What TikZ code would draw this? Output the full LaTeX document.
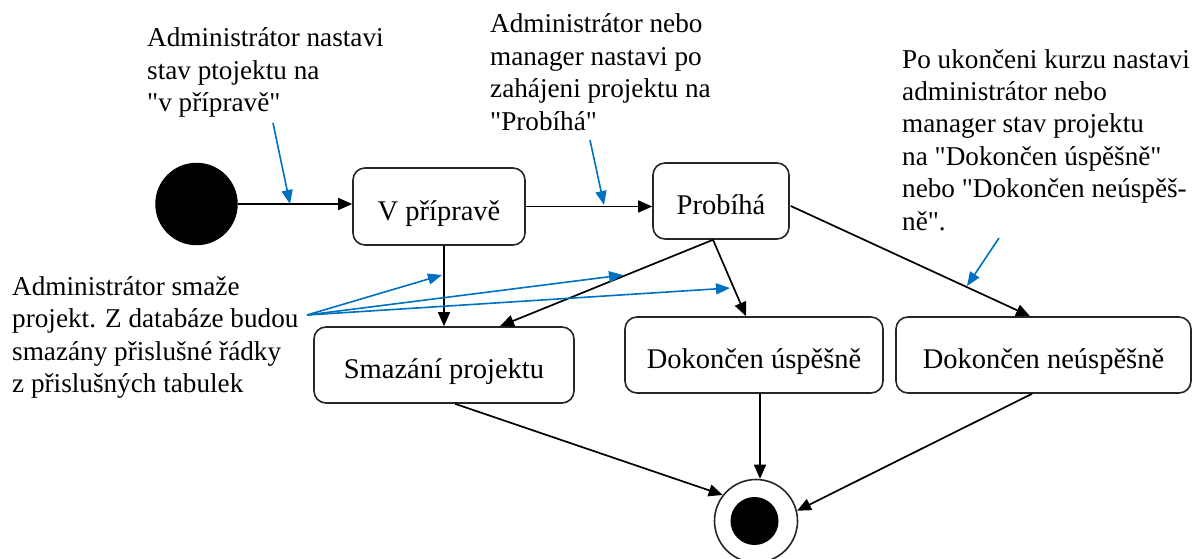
\documentclass[tikz,border=0pt]{standalone}
\usepackage{fontspec}
\newfontfamily\diafont{Liberation Serif}
\usetikzlibrary{arrows.meta,calc}
\definecolor{noteblue}{RGB}{0,112,192}
\begin{document}
\begin{tikzpicture}[x=1pt,y=-1pt,
  state/.style={draw=black!85,line width=1.6pt,rounded corners=12pt,inner sep=0pt,
    text height=27pt,text depth=0pt,font=\diafont\fontsize{28.5}{32}\selectfont},
  flow/.style={line width=1.7pt,-{Triangle[length=14pt,width=12pt]}},
  % multi-line notes are placed by the baseline of their last line
  note/.style={align=left,anchor=base west,inner sep=0pt,font=\diafont\fontsize{27.2}{32.4}\selectfont},
  pointer/.style={noteblue,line width=1.6pt,-{Triangle[length=14pt,width=11pt]}}]
\useasboundingbox (0,0) rectangle (1193,559);

% start and end of the activity
\node[circle,fill=black,minimum size=82.5pt,inner sep=0pt] (init) at (196.5,204) {};
\node[circle,draw=black!85,line width=1.6pt,minimum size=83pt,inner sep=0pt] (final) at (756,521) {};
\node[circle,fill=black,minimum size=48pt,inner sep=0pt] (finaldot) at (754.5,521) {};

% project states
\node[state,minimum width=172pt,minimum height=77pt] (prep) at (439,206.5) {V přípravě};
\node[state,minimum width=136pt,minimum height=76pt] (prob) at (721,201) {Probíhá};
\node[state,minimum width=260pt,minimum height=76pt] (del) at (444,365) {Smazání projektu};
\node[state,minimum width=258pt,minimum height=76pt] (ok) at (754,355) {Dokončen úspěšně};
\node[state,minimum width=295pt,minimum height=76pt] (fail) at (1043.5,355) {Dokončen neúspěšně};

% transitions
\draw[flow] (init.east) -- (init.east -| prep.west);
\draw[flow] (prep.east) -- (prep.east -| prob.west);
\draw[flow] (del.north |- prep.south) -- (del.north);
\draw[flow] ($(prob.south)+(-8,0)$) -- ($(del.north)+(56,0)$);
\draw[flow] ($(prob.south)+(-8,0)$) -- ($(ok.north)+(-8,0)$);
\draw[flow] ($(prob.east)+(1,5)$) -- ($(fail.north)+(-13.5,0)$);
\draw[flow] ($(del.south)+(11,0)$) -- (final.142);
\draw[flow] ($(ok.south)+(6,0)$) coordinate (okout) -- (okout |- final.north);
\draw[flow] ($(fail.south)+(-11.5,0)$) -- (final.14);

% annotations
\node[note] (n1) at (147,111.7) {Administrátor nastavi\\stav ptojektu na\\"v přípravě"};
\node[note] (n2) at (490,130) {Administrátor nebo\\manager nastavi po\\zahájeni projektu na\\"Probíhá"};
\node[note] (n3) at (902,230) {Po ukončeni kurzu nastavi\\administrátor nebo\\manager stav projektu\\na "Dokončen úspěšně"\\nebo "Dokončen neúspěš-\\ně".};
\node[note] (n4) at (12,392.5) {Administrátor smaže\\projekt. Z databáze budou\\smazány přislušné řádky\\z přislušných tabulek};

% pointers from the annotations to the transitions
\coordinate (n1tail) at (273,123);
\coordinate (n1tip) at (290,204);
\coordinate (n2tail) at (590,140);
\coordinate (n2tip) at (604,205);
\coordinate (n3tail) at (999,238);
\coordinate (n3tip) at (967,286);
\coordinate (n4tail) at (307,315);
\coordinate (n4tipa) at (442,275);
\coordinate (n4tipb) at (623,275);
\coordinate (n4tipc) at (730,288);
\draw[pointer] (n1tail) -- (n1tip);
\draw[pointer] (n2tail) -- (n2tip);
\draw[pointer] (n3tail) -- (n3tip);
\draw[pointer] (n4tail) -- (n4tipa);
\draw[pointer] (n4tail) -- (n4tipb);
\draw[pointer] (n4tail) -- (n4tipc);
\end{tikzpicture}
\end{document}
